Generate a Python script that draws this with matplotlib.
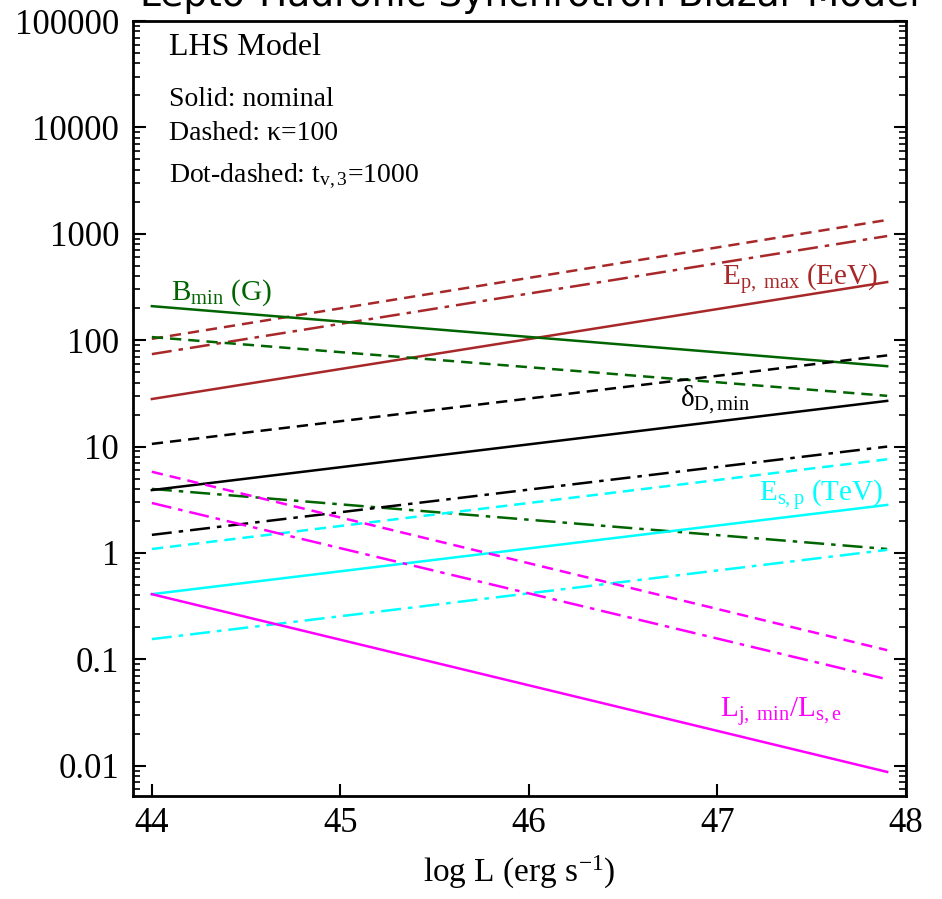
import numpy as np
import matplotlib
matplotlib.use("Agg")
import matplotlib.pyplot as plt

# ================= DATA =================
log_L = [44.0, 47.9]

# proton max energy (EeV)
ep_max_nom = [28, 352]
ep_max_kappa = [103, 1350]
ep_max_tv = [74, 953]

# minimum magnetic field (G)
b_min_nom = [209, 57]
b_min_kappa = [107, 30]
b_min_tv = [4.0, 1.09]

# minimum Doppler factor
delta_nom = [3.9, 26.9]
delta_kappa = [10.6, 72]
delta_tv = [1.48, 10.0]

# proton synchrotron energy (TeV)
es_p_nom = [0.41, 2.83]
es_p_kappa = [1.09, 7.6]
es_p_tv = [0.155, 1.07]

# jet power ratio
lj_nom = [0.41, 0.00875]
lj_kappa = [5.8, 0.122]
lj_tv = [2.95, 0.065]

# ================= STYLE =================
plt.rcParams['font.family'] = ['Liberation Serif', 'DejaVu Serif']
plt.rcParams['mathtext.fontset'] = 'custom'
plt.rcParams['mathtext.rm'] = 'Liberation Serif'
plt.rcParams['mathtext.it'] = 'Liberation Serif:italic'

BROWN = '#a8282a'
GREEN = '#006400'
CYAN = '#00ffff'
MAGENTA = '#ff00ff'
BLACK = 'black'

DASHED = (0, (4.5, 2.8))
DOTDASH = (0, (8, 2.8, 1.8, 2.8))

fig = plt.figure(figsize=(9.42, 8.99), dpi=100)
ax = fig.add_axes([0.1412, 0.1146, 0.8206, 0.862])

groups = [
    (BROWN, ep_max_nom, ep_max_kappa, ep_max_tv),
    (GREEN, b_min_nom, b_min_kappa, b_min_tv),
    (BLACK, delta_nom, delta_kappa, delta_tv),
    (CYAN, es_p_nom, es_p_kappa, es_p_tv),
    (MAGENTA, lj_nom, lj_kappa, lj_tv),
]
for color, nom, kap, tv in groups:
    ax.plot(log_L, nom, color=color, lw=1.8, ls='-')
    ax.plot(log_L, kap, color=color, lw=1.8, ls=DASHED)
    ax.plot(log_L, tv, color=color, lw=1.8, ls=DOTDASH)

ax.set_yscale('log')
ax.set_xlim(43.9, 48.0)
ax.set_ylim(0.0052, 1e5)

ax.set_xticks([44, 45, 46, 47, 48])
ax.set_xticklabels(['44', '45', '46', '47', '48'])
yt = [0.01, 0.1, 1, 10, 100, 1000, 10000, 100000]
ax.set_yticks(yt)
ax.set_yticklabels(['0.01', '0.1', '1', '10', '100', '1000', '10000', '100000'])
ax.yaxis.set_minor_locator(matplotlib.ticker.LogLocator(base=10, subs=np.arange(2, 10), numticks=20))
ax.yaxis.set_minor_formatter(matplotlib.ticker.NullFormatter())

ax.tick_params(axis='both', which='major', direction='in', labelsize=25, width=1.5)
ax.tick_params(axis='y', which='major', length=9, right=True, pad=10)
ax.tick_params(axis='y', which='minor', direction='in', length=5, width=1.2, right=True)
ax.tick_params(axis='x', which='major', length=9, top=False, pad=8)
for s in ax.spines.values():
    s.set_linewidth(2)

ax.set_xlabel('log L (erg s$^{\\mathrm{-1}}$)', fontsize=24, labelpad=10)

# ================= ANNOTATIONS =================
ax.text(0.047, 0.984, 'LHS Model', transform=ax.transAxes, fontsize=23, va='top')
ax.text(0.047, 0.915, 'Solid: nominal', transform=ax.transAxes, fontsize=20, va='top')
ax.text(0.047, 0.871, 'Dashed: κ=100', transform=ax.transAxes, fontsize=20, va='top')
ax.text(0.047, 0.819, 'Dot-dashed: t$_{\\mathrm{v,3}}$=1000', transform=ax.transAxes,
        fontsize=20, va='top')

ax.text(44.1, 200, 'B$_{\\mathrm{min}}$ (G)', color=GREEN, fontsize=21, va='bottom')
ax.text(47.85, 255, 'E$_{\\mathrm{p,\\ max}}$ (EeV)', color=BROWN, fontsize=21,
        ha='right', va='bottom')
ax.text(46.8, 19.5, 'δ$_{\\mathrm{D,min}}$', color=BLACK, fontsize=21, va='bottom')
ax.text(47.88, 2.4, 'E$_{\\mathrm{s,p}}$ (TeV)', color=CYAN, fontsize=21,
        ha='right', va='bottom')
ax.text(47.66, 0.0225, 'L$_{\\mathrm{j,\\ min}}$/L$_{\\mathrm{s,e}}$', color=MAGENTA,
        fontsize=21, ha='right', va='bottom')

fig.text(0.562, 1.005, 'Lepto-Hadronic Synchrotron Blazar Model', family='DejaVu Sans',
         fontsize=27, ha='center', va='center')

fig.savefig('out.png', dpi=100)
